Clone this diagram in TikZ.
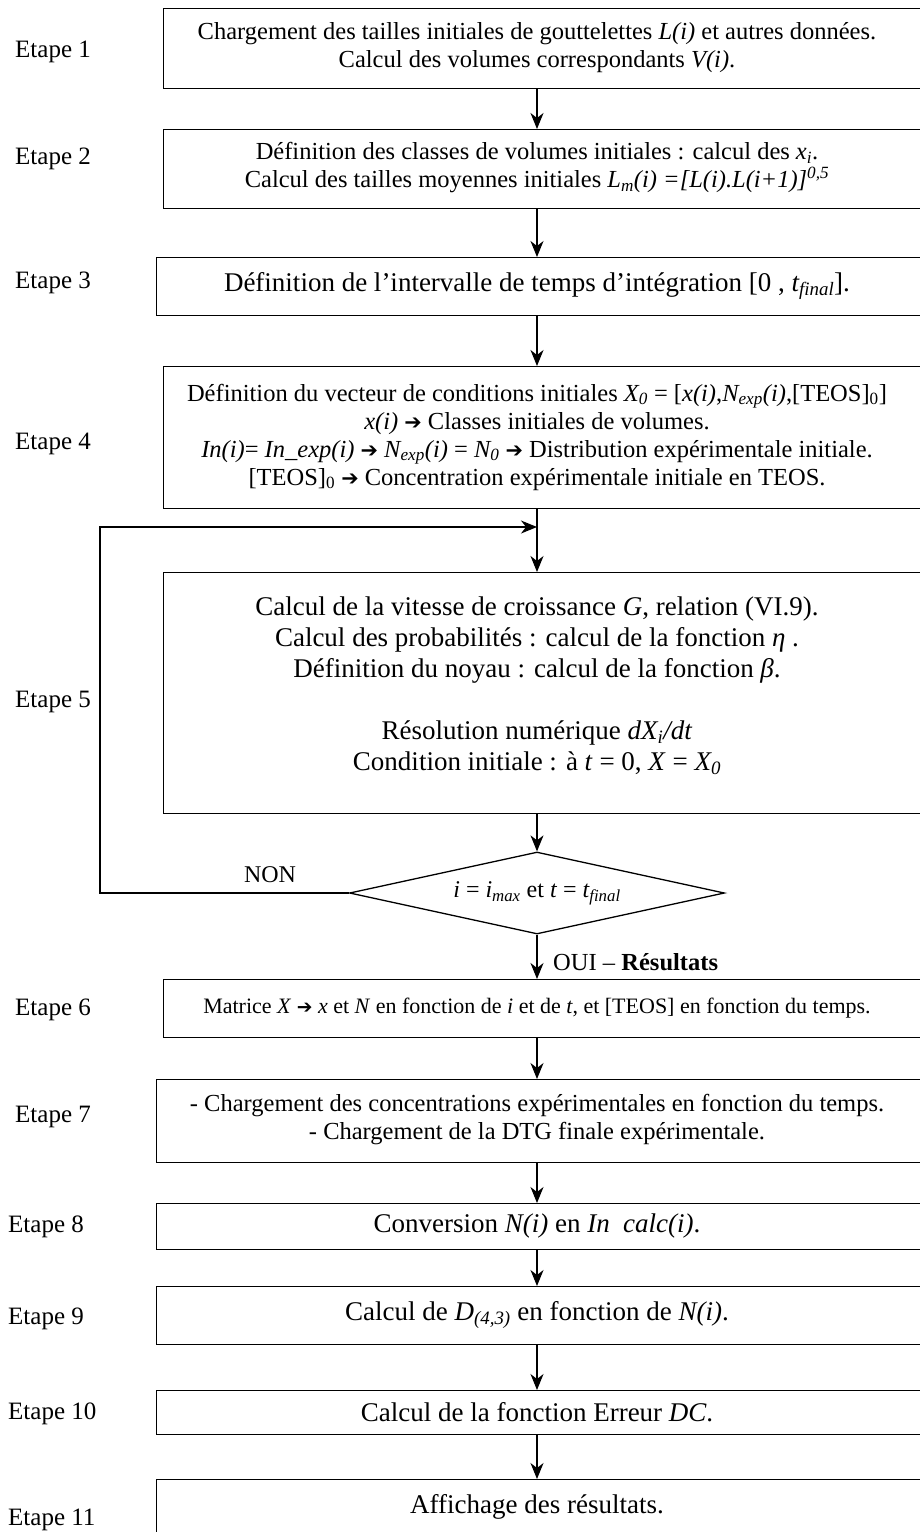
\documentclass[tikz,border=0pt]{standalone}
\usepackage{fontspec}
\setmainfont{Liberation Serif}
\newfontfamily\flechefont{DejaVu Sans}
\usetikzlibrary{arrows.meta, positioning, shapes.geometric}
\newcommand{\fl}{{\flechefont\fontsize{0.85em}{1em}\selectfont ➔}}
\newcommand{\moyen}{\fontsize{24.5}{28}\selectfont}
\newcommand{\grand}{\fontsize{27}{31}\selectfont}
\newcommand{\petit}{\fontsize{22}{26}\selectfont}
\newcommand{\ind}[1]{\textsubscript{#1}}
\tikzset{
  cadre/.style={draw, line width=1.3pt, anchor=north west, inner sep=0pt},
  texte/.style={align=center, inner sep=0pt},
  etape/.style={anchor=west, inner sep=0pt, font=\fontsize{25}{30}\selectfont},
  losange/.style={diamond, aspect=4.6, draw, line width=1.3pt, minimum width=375pt, minimum height=82pt, inner sep=0pt, font=\fontsize{24}{28}\selectfont},
  fleche/.style={line width=1.2pt, -{Stealth[length=16pt, width=13pt, inset=5pt]}},
}

\begin{document}
\begin{tikzpicture}[x=1pt, y=-1pt]
  \useasboundingbox (0,0) rectangle (920,1532);
  \clip (0,0) rectangle (920,1532);
  \coordinate (axe) at (537,0);

  % cadres : numero / gauche / haut / bas
  \foreach \n/\g/\h/\bas in {1/163/8/88, 2/163/129/208, 3/156/257/315, 4/163/366/508,
      5/163/572/813, 6/163/979/1037, 7/156/1079/1162, 8/156/1203/1249,
      9/156/1286/1344, 10/156/1390/1434, 11/156/1479/1560} {
    \pgfmathsetmacro\lw{940-\g}
    \pgfmathsetmacro\lh{\bas-\h}
    \node[cadre, minimum width=\lw pt, minimum height=\lh pt] (b\n) at (\g,\h) {};
  }

  % etapes a gauche
  \foreach \n/\x/\y in {1/15/52, 2/15/159, 3/15/283, 4/15/444, 5/15/702, 6/15/1010,
      7/15/1117, 8/8/1227, 9/8/1319, 10/8/1414, 11/8/1520}
    \node[etape] (e\n) at (\x,\y) {Etape \n};

  % textes des cadres
  \node[texte, font=\moyen] (t1) at (537,48)
    {Chargement des tailles initiales de gouttelettes \textit{L(i)} et autres données.\\
     Calcul des volumes correspondants \textit{V(i)}.};
  \node[texte, font=\moyen] (t2) at (537,168)
    {Définition des classes de volumes initiales : calcul des \textit{x\ind{i}}.\\
     Calcul des tailles moyennes initiales \textit{L\ind{m}(i) =[L(i).L(i+1)]\textsuperscript{0,5}}};
  \node[texte, font=\grand] (t3) at (537,286)
    {Définition de l’intervalle de temps d’intégration [0 , \textit{t\ind{final}}].};
  \node[texte, font=\moyen] (t4) at (537,437)
    {Définition du vecteur de conditions initiales \textit{X\ind{0}} = [\textit{x(i)},\textit{N\ind{exp}(i)},[TEOS]\ind{0}]\\
     \textit{x(i)} \fl{} Classes initiales de volumes.\\
     \textit{In(i)}= \textit{In\_exp(i)} \fl{} \textit{N\ind{exp}(i)} = \textit{N\ind{0}} \fl{} Distribution expérimentale initiale.\\
     {}[TEOS]\ind{0} \fl{} Concentration expérimentale initiale en TEOS.};
  \node[texte, font=\grand, anchor=north] (t5) at (537,597)
    {Calcul de la vitesse de croissance \textit{G}, relation (VI.9).\\
     Calcul des probabilités : calcul de la fonction \textit{η} .\\
     Définition du noyau : calcul de la fonction \textit{β}.\\[31pt]
     Résolution numérique \textit{dX\ind{i}/dt}\\
     Condition initiale : à \textit{t} = 0, \textit{X} = \textit{X\ind{0}}};
  \node[texte, font=\petit] (t6) at (537,1008)
    {Matrice \textit{X} \fl{} \textit{x} et \textit{N} en fonction de \textit{i} et de \textit{t}, et [TEOS] en fonction du temps.};
  \node[texte, font=\moyen] (t7) at (537,1120)
    {- Chargement des concentrations expérimentales en fonction du temps.\\
     - Chargement de la DTG finale expérimentale.};
  \node[texte, font=\grand] (t8) at (537,1226)
    {Conversion \textit{N(i)} en \textit{In\ \ calc(i)}.};
  \node[texte, font=\grand] (t9) at (537,1315)
    {Calcul de \textit{D\ind{(4,3)}} en fonction de \textit{N(i)}.};
  \node[texte, font=\grand] (t10) at (537,1412)
    {Calcul de la fonction Erreur \textit{DC}.};
  \node[texte, font=\grand] (t11) at (537,1507)
    {Affichage des résultats.};

  % test de fin
  \node[losange] (dec) at (537,893)
    {\textit{i} = \textit{i\ind{max}} et \textit{t} = \textit{t\ind{final}}};
  \node[texte, font=\fontsize{24}{28}\selectfont] (non) at (270,875) {NON};
  \node[texte, font=\fontsize{24.5}{28}\selectfont, anchor=west] (oui) at (553,962)
    {OUI – \textbf{Résultats}};

  % fleches
  \foreach \dep/\arr in {b1/b2, b2/b3, b3/b4, b4/b5, b6/b7, b7/b8, b8/b9, b9/b10, b10/b11}
    \draw[fleche] (\dep.south -| axe) -- (\arr.north -| axe);
  \draw[fleche] (b5.south -| axe) -- (dec.north);
  \draw[fleche] (dec.south) -- (b6.north -| axe);

  % boucle NON
  \coordinate (retour) at (100,527);
  \draw[fleche] (dec.west) -| (retour) -- (retour -| axe);
\end{tikzpicture}
\end{document}
